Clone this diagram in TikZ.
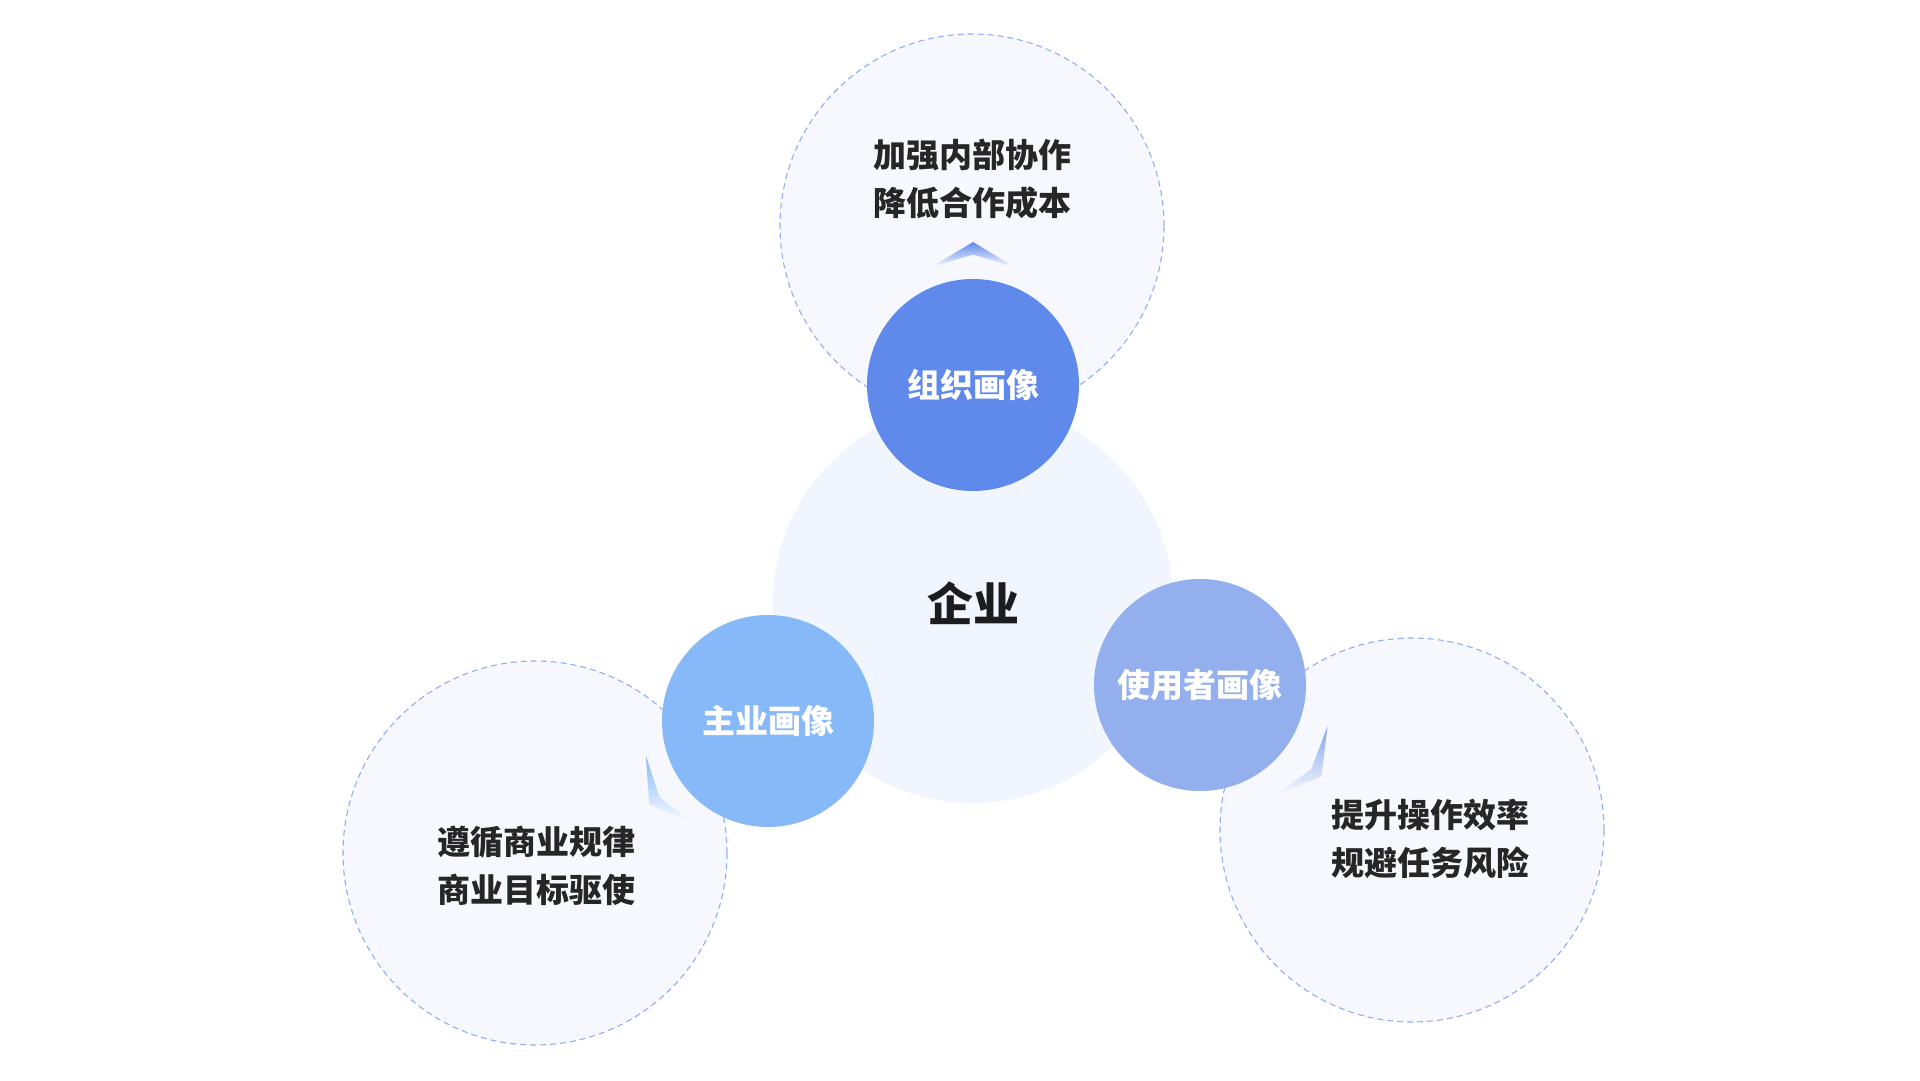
\documentclass[tikz,border=0pt]{standalone}
\usepackage{fontspec}
\setmainfont{Noto Sans CJK SC}
\definecolor{orgblue}{HTML}{5F8AEB}
\definecolor{bizblue}{HTML}{87B9F9}
\definecolor{usrblue}{HTML}{93AFED}
\definecolor{hubfill}{HTML}{F1F6FE}
\definecolor{bubblefill}{HTML}{F7F8FE}
\definecolor{bubbleline}{HTML}{94AEF3}
\definecolor{notetext}{HTML}{262626}
\definecolor{hubtext}{HTML}{1C1C1E}

\begin{document}
\begin{tikzpicture}[
    x=1pt, y=1pt,
    hub/.style={
        circle, minimum size=400pt, inner sep=0pt,
        fill=hubfill, text=hubtext, font=\bfseries\fontsize{46}{46}\selectfont
    },
    bubble/.style={
        circle, minimum size=384pt, inner sep=0pt,
        fill=bubblefill, draw=bubbleline, line width=1.1pt, dash pattern=on 6pt off 4pt
    },
    portrait/.style={
        circle, minimum size=212pt, inner sep=0pt,
        text=white, font=\bfseries\fontsize{33}{40}\selectfont
    },
    note/.style={
        align=center, text=notetext, font=\bfseries\fontsize{33}{48}\selectfont
    }
]
\fill [white] (0,0) rectangle (1920,1080);
\node (orgbub) [bubble] at (972,854) {};
\node (bizbub) [bubble] at (535,227) {};
\node (usrbub) [bubble] at (1412,250) {};
\node (hub) [hub] at (973,477) {企业};
\node (org) [portrait, fill=orgblue] at (973,695) {组织画像};
\node (biz) [portrait, fill=bizblue] at (768,359) {主业画像};
\node (usr) [portrait, fill=usrblue] at (1200,395) {使用者画像};
\foreach \p/\a/\d/\col in {org/90/143/orgblue, biz/215/145/bizblue, usr/-37/152/usrblue!70!orgblue} {
    \pgfmathsetmacro\sa{\a-90}
    \shade [shift={(\p.center)}, shading angle=\sa, top color=\col, bottom color=\col!5]
        (\a:\d) -- (\a+19.2:\d-18) -- (\a:\d-12.5) -- (\a-19.2:\d-18) -- cycle;
}
\node (orgnote) [note] at (972,901) {加强内部协作\\降低合作成本};
\node (biznote) [note] at (536,214) {遵循商业规律\\商业目标驱使};
\node (usrnote) [note] at (1430,241) {提升操作效率\\规避任务风险};
\end{tikzpicture}
\end{document}
